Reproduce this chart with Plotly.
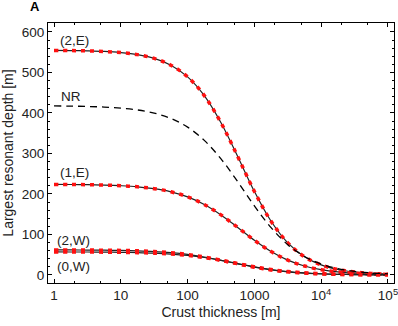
import plotly.graph_objects as go

# crust thickness [m], log-spaced samples
thickness = [1, 1.778, 3.162, 5.623, 10, 17.78, 31.62, 56.23, 100, 177.8, 316.2,
             562.3, 1000, 1778, 3162, 5623, 10000, 17783, 31623, 56234, 100000]

# largest resonant depth [m]
depth_2E = [554.5, 554.1, 553.3, 551.9, 549.1, 544.1, 534.7, 518.0, 489.2, 442.9, 375.9,
            292.5, 206.2, 132.6, 79.3, 45.1, 24.9, 13.5, 7.3, 3.9, 2.1]
depth_NR = [417.4, 416.9, 416.1, 414.6, 412.0, 407.5, 399.7, 386.5, 365.1, 332.3, 286.7,
            230.3, 170.7, 116.9, 74.9, 45.7, 27.0, 15.6, 8.9, 5.1, 2.9]
depth_1E = [223.6, 223.4, 222.9, 222.0, 220.4, 217.8, 213.1, 205.4, 192.9, 174.1, 148.3,
            117.5, 85.7, 57.9, 36.7, 22.2, 13.1, 7.5, 4.3, 2.4, 1.4]
depth_2W = [61.9, 61.8, 61.6, 61.2, 60.7, 59.6, 57.9, 55.1, 50.7, 44.4, 36.4,
            27.6, 19.3, 12.5, 7.7, 4.6, 2.7, 1.5, 0.9, 0.5, 0.3]
depth_0W = [56.9, 56.8, 56.7, 56.4, 56.0, 55.2, 53.9, 51.7, 48.2, 43.1, 36.2,
            28.2, 20.2, 13.5, 8.4, 5.1, 3.0, 1.7, 1.0, 0.6, 0.3]

labels = ["(2,E)", "NR", "(1,E)", "(2,W)", "(0,W)"]
label_x = [0.31, 0.25, 0.31, 0.29, 0.29]
label_y = [580, 440, 254, 86, 22]

fig = go.Figure()

for ys in [depth_2E, depth_1E, depth_2W, depth_0W]:
    fig.add_trace(go.Scatter(x=thickness, y=ys, mode="lines",
                             line=dict(color="#222", width=1.2, shape="spline")))
    fig.add_trace(go.Scatter(x=thickness, y=ys, mode="lines",
                             line=dict(color="#ff1010", width=3.5, dash="4px,5px", shape="spline")))

fig.add_trace(go.Scatter(x=thickness, y=depth_NR, mode="lines",
                         line=dict(color="black", width=1.3, dash="7px,5px", shape="spline")))

for t, x, y in zip(labels, label_x, label_y):
    fig.add_annotation(x=x, y=y, xref="x", yref="y", text=t, showarrow=False,
                       font=dict(size=13.5, color="#222"))

# panel letter
fig.add_annotation(x=-0.039, y=1.063, xref="paper", yref="paper", text="<b>A</b>",
                   showarrow=False, xanchor="center", yanchor="middle",
                   font=dict(size=13, color="black"))

axis_common = dict(showline=True, linecolor="black", linewidth=1, mirror="allticks",
                   ticks="inside", tickcolor="black", showgrid=False, zeroline=False,
                   automargin=False, tickfont=dict(size=13.5, color="#222"))

fig.update_xaxes(type="log", range=[-0.09, 5.09],
                 tickvals=[1, 10, 100, 1000, 10000, 100000],
                 ticktext=["1", "10", "100", "1000", "10<sup>4</sup>", "10<sup>5</sup>"],
                 ticklen=4, ticklabeloverflow="allow",
                 minor=dict(ticks="inside", ticklen=2, tickcolor="black", showgrid=False),
                 title=dict(text="Crust thickness [m]", font=dict(size=14, color="#222"), standoff=4),
                 **axis_common)
fig.update_yaxes(range=[-19.8, 622.2], tickvals=[0, 100, 200, 300, 400, 500, 600], ticklen=4,
                 minor=dict(ticks="inside", ticklen=2, dtick=20, tickcolor="black", showgrid=False),
                 title=dict(text="Largest resonant depth [m]", font=dict(size=14, color="#222"), standoff=4),
                 **axis_common)

fig.update_layout(width=398, height=326, showlegend=False,
                  margin=dict(l=48, r=4, t=23, b=43),
                  plot_bgcolor="white", paper_bgcolor="white",
                  font=dict(family="Liberation Sans, Arial, sans-serif"))

fig.write_html("out.html", config={"displayModeBar": False},
               post_script="document.body.style.margin='0';")
